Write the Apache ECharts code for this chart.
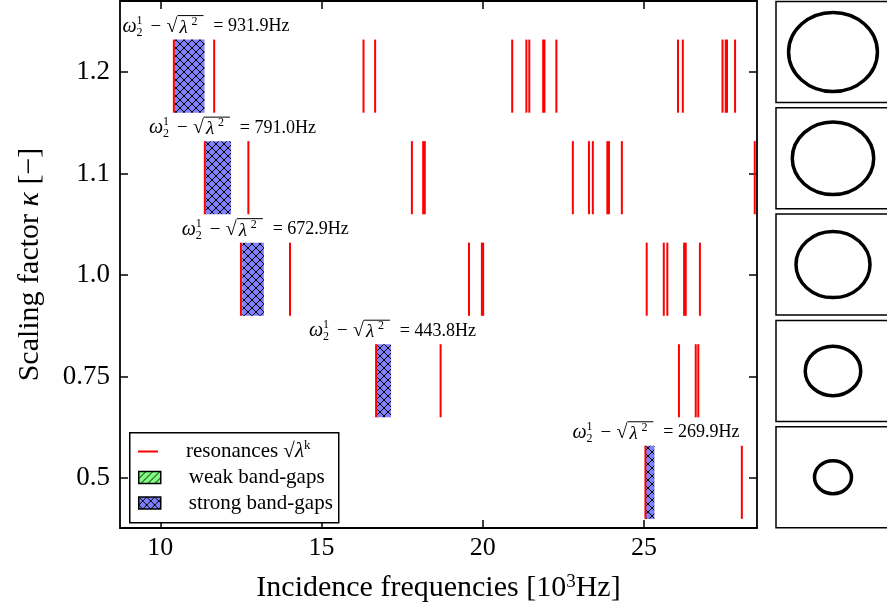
<!DOCTYPE html>
<html lang="en">
<head>
<meta charset="UTF-8">
<title>Band-gaps vs scaling factor</title>
<script src="https://cdn.jsdelivr.net/npm/echarts@6/dist/echarts.min.js"></script>
<style>html,body{margin:0;padding:0;background:#fff}#main{width:887px;height:608px}</style>
</head>
<body>
<div id="main"></div>
<script>
// rows, bottom first
var kappaLabels = ['0.5', '0.75', '1.0', '1.1', '1.2'];
var kappaValues = [0.5, 0.75, 1.0, 1.1, 1.2];
var rowTicks = [0, 1, 2, 3, 4];
var xTicks = [10, 15, 20, 25];

// resonances sqrt(lambda^k) per row, 10^3 Hz
var res05 = [25.04, 28.03];
var res075 = [16.69, 18.69, 26.08, 26.60, 26.68];
var res10 = [12.50, 14.02, 19.57, 19.97, 20.01, 25.08, 25.61, 25.72, 26.24, 26.29, 26.73];
var res11 = [11.38, 12.73, 17.80, 18.15, 18.20, 22.79, 23.29, 23.41, 23.86, 23.91, 24.31, 28.43];
var res12 = [10.42, 11.67, 16.30, 16.66, 20.91, 21.35, 21.44, 21.87, 21.91, 22.28, 26.05, 26.20, 27.43, 27.53, 27.57, 27.82];
var resRows = [res05, res075, res10, res11, res12];

// strong band-gaps
var gapStart = [25.05, 16.71, 12.54, 11.40, 10.44];
var gapEnd = [25.32, 17.15, 13.21, 12.19, 11.37];
var gapWidth = [269.9, 443.8, 672.9, 791.0, 931.9];

var FONT = 'Liberation Serif';
var rowUp = 0.32, rowDown = 0.4;

function hatch(bg, cross, size) {
    var c = document.createElement('canvas');
    c.width = size; c.height = size;
    var g = c.getContext('2d');
    g.fillStyle = bg;
    g.fillRect(0, 0, size, size);
    g.strokeStyle = '#000';
    g.lineWidth = 1;
    g.beginPath();
    g.moveTo(0, size); g.lineTo(size, 0);
    g.moveTo(-1, 1); g.lineTo(1, -1);
    g.moveTo(size - 1, size + 1); g.lineTo(size + 1, size - 1);
    if (cross) {
        g.moveTo(0, 0); g.lineTo(size, size);
        g.moveTo(size - 1, -1); g.lineTo(size + 1, 1);
        g.moveTo(-1, size - 1); g.lineTo(1, size + 1);
    }
    g.stroke();
    return {image: c, repeat: 'repeat'};
}
var strongFill = hatch('#8080ff', true, 8);
var weakFill = hatch('#80ff80', false, 7);

var resData = [];
resRows.forEach(function (row, i) {
    row.forEach(function (f) { resData.push([f, rowTicks[i]]); });
});
var gapData = gapStart.map(function (s, i) { return [s, gapEnd[i], rowTicks[i], gapWidth[i]]; });

function txt(str, x, y, size, italic, align) {
    return {
        type: 'text', x: x, y: y,
        style: {
            text: str, fontFamily: FONT, fontSize: size, fontStyle: italic ? 'italic' : 'normal',
            fill: '#000', align: align || 'left', verticalAlign: 'middle'
        }
    };
}

function renderGap(params, api) {
    var s = api.value(0), e = api.value(1), r = api.value(2), w = api.value(3);
    var p0 = api.coord([s, r + rowUp]);
    var p1 = api.coord([e, r - rowDown]);
    var right = p1[0] + 85, left = right - 167, y = p0[1] - 13;
    return {
        type: 'group',
        children: [
            {type: 'rect', shape: {x: p0[0], y: p0[1], width: p1[0] - p0[0], height: p1[1] - p0[1]}, style: {fill: strongFill}},
            txt('ω', left, y, 20, true),
            txt('1', left + 14, y - 6, 12),
            txt('2', left + 14, y + 6, 12),
            txt('−', left + 28, y, 19),
            txt('√', left + 44, y, 20),
            {type: 'line', shape: {x1: left + 55, y1: y - 11, x2: left + 81, y2: y - 11}, style: {stroke: '#000', lineWidth: 1}},
            txt('λ', left + 57, y + 1, 19, true),
            txt('2', left + 69, y - 5, 12),
            txt('= ' + w.toFixed(1) + 'Hz', right, y, 18, false, 'right')
        ]
    };
}

function renderRes(params, api) {
    var p0 = api.coord([api.value(0), api.value(1) + rowUp]);
    var p1 = api.coord([api.value(0), api.value(1) - rowDown]);
    return {type: 'line', shape: {x1: p0[0], y1: p0[1], x2: p1[0], y2: p1[1]}, style: {stroke: '#ff0000', lineWidth: 2}};
}

function renderRing(params, api) {
    var c = api.coord([api.value(0), api.value(1)]);
    var k = api.value(2);
    var sz = api.size([k, k]);
    return {type: 'ellipse', shape: {cx: c[0], cy: c[1], rx: sz[0], ry: sz[1]}, style: {fill: 'none', stroke: '#000', lineWidth: 3.5}};
}

var tickStyle = {inside: true, length: 8, lineStyle: {color: '#000', width: 1.5}};
var lineStyle = {show: true, onZero: false, lineStyle: {color: '#000', width: 1.8}};

var grids = [{left: 120, top: 1, width: 637, height: 527, outerBoundsMode: 'none'}];
var xAxes = [
    {type: 'value', gridIndex: 0, min: 8.75, max: 28.5, axisLine: lineStyle, splitLine: {show: false},
        axisTick: Object.assign({customValues: xTicks}, tickStyle),
        axisLabel: {customValues: xTicks, margin: 7, fontFamily: FONT, fontSize: 26, color: '#000'},
        name: 'Incidence frequencies [10{s|3}Hz]', nameLocation: 'middle', nameGap: 45,
        nameTextStyle: {fontFamily: FONT, fontSize: 30, color: '#000', rich: {s: {fontFamily: FONT, fontSize: 19, verticalAlign: 'top'}}}},
    {type: 'value', gridIndex: 0, position: 'top', min: 8.75, max: 28.5, axisLine: lineStyle, splitLine: {show: false},
        axisTick: Object.assign({customValues: xTicks}, tickStyle), axisLabel: {show: false}}
];
var yAxes = [
    {type: 'value', gridIndex: 0, min: -0.49, max: 4.7, axisLine: lineStyle, splitLine: {show: false},
        axisTick: Object.assign({customValues: rowTicks}, tickStyle),
        axisLabel: {customValues: rowTicks, margin: 10, fontFamily: FONT, fontSize: 27, color: '#000',
            formatter: function (v) { return kappaLabels[Math.round(v)]; }},
        name: 'Scaling factor {i|κ} [−]', nameLocation: 'middle', nameGap: 75, nameRotate: 90,
        nameTextStyle: {fontFamily: FONT, fontSize: 30, color: '#000', rich: {i: {fontFamily: FONT, fontSize: 30, fontStyle: 'italic'}}}},
    {type: 'value', gridIndex: 0, position: 'right', min: -0.49, max: 4.7, axisLine: lineStyle, splitLine: {show: false},
        axisTick: Object.assign({customValues: rowTicks}, tickStyle), axisLabel: {show: false}}
];

var series = [
    {name: 'strong band-gaps', type: 'custom', xAxisIndex: 0, yAxisIndex: 0, clip: false, z: 2,
        itemStyle: {color: strongFill}, renderItem: renderGap, data: gapData},
    {name: 'weak band-gaps', type: 'custom', xAxisIndex: 0, yAxisIndex: 0, z: 2,
        itemStyle: {color: weakFill}, renderItem: renderGap, data: []},
    {name: 'resonances', type: 'custom', xAxisIndex: 0, yAxisIndex: 0, z: 3,
        itemStyle: {color: '#ff0000'}, renderItem: renderRes, data: resData}
];

// geometry panels, largest on top; right edge falls off the canvas
kappaValues.forEach(function (k, j) {
    var g = grids.length;
    grids.push({left: 776, width: 114, top: 1.5 + (4 - j) * 106.3, height: 101, show: true,
        outerBoundsMode: 'none', borderColor: '#000', borderWidth: 1.5, backgroundColor: 'transparent'});
    xAxes.push({type: 'value', gridIndex: g, min: -1.54, max: 1.54, show: false});
    yAxes.push({type: 'value', gridIndex: g, min: -1.53, max: 1.53, show: false});
    series.push({type: 'custom', xAxisIndex: g + 1, yAxisIndex: g + 1, renderItem: renderRing,
        encode: {x: 0, y: 1}, data: [[0, 0, k]], silent: true});
});

var legendText = {fontFamily: FONT, fontSize: 21, color: '#000', lineHeight: 25, padding: [0, 0, 0, 23],
    rich: {i: {fontFamily: FONT, fontSize: 21, fontStyle: 'italic'}, s: {fontFamily: FONT, fontSize: 13, verticalAlign: 'top'}}};

var option = {
    animation: false,
    backgroundColor: '#fff',
    grid: grids,
    xAxis: xAxes,
    yAxis: yAxes,
    graphic: [{type: 'rect', left: 129, top: 432, z: 5,
        shape: {width: 209, height: 90}, style: {fill: '#fff', stroke: '#000', lineWidth: 1.5}}],
    legend: [
        {data: ['resonances'], left: 138, top: 439, padding: 0, z: 6, selectedMode: false,
            icon: 'rect', itemWidth: 20, itemHeight: 2, textStyle: legendText,
            formatter: function (n) { return 'resonances √{i|λ}{s|k}'; }},
        {data: [{name: 'weak band-gaps', itemStyle: {borderColor: '#000', borderWidth: 1.5}},
                {name: 'strong band-gaps', itemStyle: {borderColor: '#000', borderWidth: 1.5}}],
            left: 138, top: 465, padding: 0, z: 6, orient: 'vertical', selectedMode: false,
            icon: 'rect', itemWidth: 22, itemHeight: 12, itemGap: 0.5, textStyle: legendText}
    ],
    series: series
};

var myChart = echarts.init(document.getElementById('main'));
myChart.setOption(option);
</script>
</body>
</html>
